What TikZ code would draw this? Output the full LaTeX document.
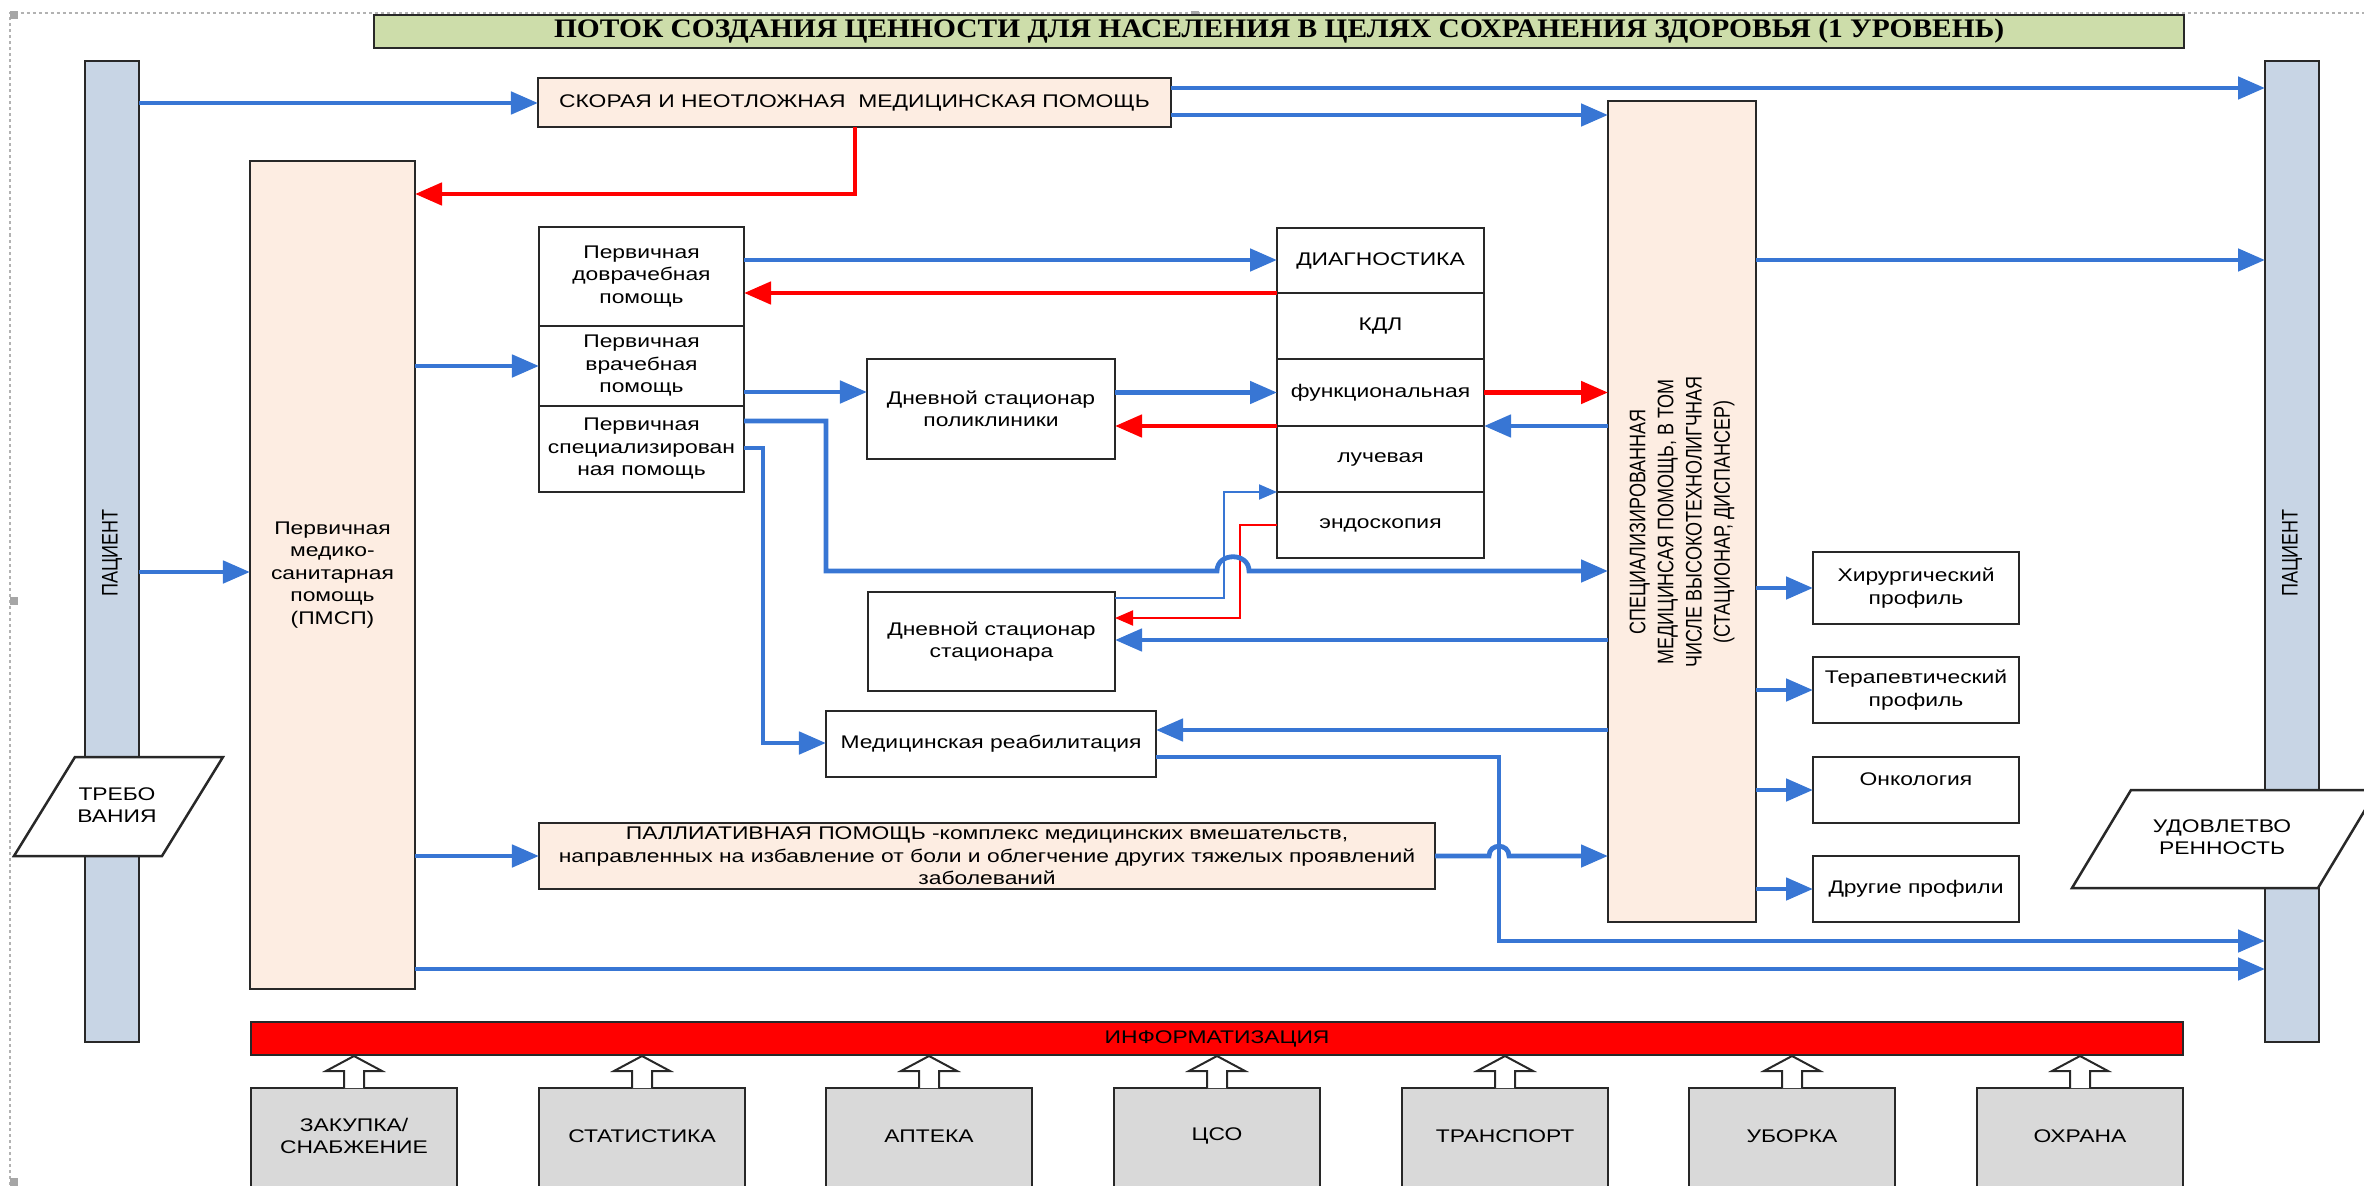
\documentclass[tikz,border=0pt]{standalone}
\usepackage{graphicx}
\usepackage{fontspec}
\setmainfont{Liberation Sans}
\newfontfamily\arw[FakeStretch=1.25]{Liberation Sans}
\newfontfamily\arrot[FakeStretch=0.8]{Liberation Sans}
\newfontfamily\ttlf[FakeStretch=1.1]{Liberation Serif}
\usetikzlibrary{arrows.meta}
\definecolor{peach}{RGB}{253,237,226}
\definecolor{pbl}{RGB}{200,213,229}
\definecolor{ttlg}{RGB}{205,221,170}
\definecolor{botg}{RGB}{217,217,217}
\definecolor{abl}{RGB}{56,118,212}
\definecolor{ared}{RGB}{255,0,0}
\definecolor{bord}{RGB}{40,40,40}
\newcommand\mybox[7]{\node[#6, minimum width={(#4-#2)*0.01cm}, minimum height={(#5-#3)*0.01cm}] (#1) at ({(#2+#4)/2},{(#3+#5)/2}) {#7};}
\newcommand\blkarrow[1]{\draw[hollow] (#1.north) ++(-10,0) -- ++(0,-17) -- ++(-18,0) -- ++(28,-15) -- ++(28,15) -- ++(-18,0) -- ++(0,17);}
\begin{document}
\begin{tikzpicture}[x=0.01cm,y=-0.01cm,
 txt/.style={inner sep=0pt, outer sep=0pt, align=center, font=\arw\fontsize{5.2}{6.4}\selectfont},
 box/.style={txt, draw=bord, line width=0.025cm, fill=white},
 pbox/.style={box, fill=peach},
 bar/.style={box, fill=pbl},
 gbox/.style={box, fill=botg},
 rtxt/.style={inner sep=0pt, align=center, rotate=90, font=\arrot\fontsize{6.4}{8}\selectfont},
 barr/.style={draw=abl, line width=0.048cm, -{Triangle[length=0.27cm,width=0.22cm]}},
 rarr/.style={draw=ared, line width=0.048cm, -{Triangle[length=0.27cm,width=0.22cm]}},
 tbarr/.style={draw=abl, line width=0.02cm, -{Triangle[length=0.18cm,width=0.15cm]}},
 trarr/.style={draw=ared, line width=0.02cm, -{Triangle[length=0.18cm,width=0.15cm]}},
 hollow/.style={draw=bord, line width=0.02cm, fill=white},
 handle/.style={fill=gray!70, draw=none, minimum size=0.08cm, inner sep=0pt}]
\useasboundingbox (0,0) rectangle (2364,1185);
\clip (0,0) rectangle (2364,1185);
% frame
\draw[gray!60, line width=0.012cm, dash pattern=on 0.03cm off 0.03cm] (10,1185) -- (10,13) -- (2364,13);
\node[handle] (h1) at (14,15) {};
\node[handle] (h2) at (1195,15) {};
\node[handle] (h3) at (14,601) {};
\node[handle] (h4) at (14,1182) {};
% patient bars
\mybox{ptL}{85}{61}{139}{1042}{bar}{}
\mybox{ptR}{2265}{61}{2319}{1042}{bar}{}
\node[rtxt] (ptLt) at (112,553) {ПАЦИЕНТ};
\node[rtxt] (ptRt) at (2292,553) {ПАЦИЕНТ};
% title
\mybox{ttl}{374}{15}{2184}{48}{box,fill=ttlg}{\resizebox{14.49cm}{!}{\ttlf\bfseries ПОТОК СОЗДАНИЯ ЦЕННОСТИ ДЛЯ НАСЕЛЕНИЯ В ЦЕЛЯХ СОХРАНЕНИЯ ЗДОРОВЬЯ (1 УРОВЕНЬ)}}
% boxes
\mybox{skor}{538}{78}{1171}{127}{pbox}{СКОРАЯ И НЕОТЛОЖНАЯ\ \ МЕДИЦИНСКАЯ ПОМОЩЬ}
\mybox{pmsp}{250}{161}{415}{989}{pbox}{Первичная\\медико-\\санитарная\\помощь\\(ПМСП)}
\mybox{pd}{539}{227}{744}{326}{box}{Первичная\\доврачебная\\помощь}
\mybox{pv}{539}{326}{744}{406}{box}{Первичная\\врачебная\\помощь}
\mybox{ps}{539}{406}{744}{492}{box}{Первичная\\специализирован\\ная помощь}
\mybox{d1}{1277}{228}{1484}{293}{box}{ДИАГНОСТИКА}
\mybox{d2}{1277}{293}{1484}{359}{box}{КДЛ}
\mybox{d3}{1277}{359}{1484}{426}{box}{функциональная}
\mybox{d4}{1277}{426}{1484}{492}{box}{лучевая}
\mybox{d5}{1277}{492}{1484}{558}{box}{эндоскопия}
\mybox{dspol}{867}{359}{1115}{459}{box}{Дневной стационар\\поликлиники}
\mybox{dsst}{868}{592}{1115}{691}{box}{Дневной стационар\\стационара}
\mybox{reab}{826}{711}{1156}{777}{box}{Медицинская реабилитация}
\mybox{pall}{539}{823}{1435}{889}{pbox}{ПАЛЛИАТИВНАЯ ПОМОЩЬ -комплекс медицинских вмешательств,\\направленных на избавление от боли и облегчение других тяжелых проявлений\\заболеваний}
\mybox{spec}{1608}{101}{1756}{922}{pbox}{}
\node[rtxt] (spect) at (1682,522) {СПЕЦИАЛИЗИРОВАННАЯ\\МЕДИЦИНСАЯ ПОМОЩЬ, В ТОМ\\ЧИСЛЕ ВЫСОКОТЕХНОЛИГЧНАЯ\\(СТАЦИОНАР, ДИСПАНСЕР)};
\mybox{pr1}{1813}{552}{2019}{624}{box}{Хирургический\\профиль}
\mybox{pr2}{1813}{657}{2019}{723}{box}{Терапевтический\\профиль}
\mybox{pr3}{1813}{757}{2019}{823}{box}{Онкология\\[0pt]\mbox{}}
\mybox{pr4}{1813}{856}{2019}{922}{box}{Другие профили}
% requirement / satisfaction
\draw[box] (75,757) -- (223,757) -- (162,856) -- (14,856) -- cycle;
\node[txt] (treb) at (117,805) {ТРЕБО\\ВАНИЯ};
\draw[box] (2131,790) -- (2377,790) -- (2318,888) -- (2072,888) -- cycle;
\node[txt] (udov) at (2222,837) {УДОВЛЕТВО\\РЕННОСТЬ};
% informatization and support
\mybox{info}{251}{1022}{2183}{1055}{box,fill=ared}{ИНФОРМАТИЗАЦИЯ}
\mybox{b1}{251}{1088}{457}{1200}{gbox}{}
\mybox{b2}{539}{1088}{745}{1200}{gbox}{}
\mybox{b3}{826}{1088}{1032}{1200}{gbox}{}
\mybox{b4}{1114}{1088}{1320}{1200}{gbox}{}
\mybox{b5}{1402}{1088}{1608}{1200}{gbox}{}
\mybox{b6}{1689}{1088}{1895}{1200}{gbox}{}
\mybox{b7}{1977}{1088}{2183}{1200}{gbox}{}
\node[txt] (t1) at (354,1136) {ЗАКУПКА/\\СНАБЖЕНИЕ};
\node[txt] (t2) at (642,1136) {СТАТИСТИКА};
\node[txt] (t3) at (929,1136) {АПТЕКА};
\node[txt] (t4) at (1217,1136) {ЦСО};
\node[txt] (t5) at (1505,1136) {ТРАНСПОРТ};
\node[txt] (t6) at (1792,1136) {УБОРКА};
\node[txt] (t7) at (2080,1136) {ОХРАНА};
\blkarrow{b1}\blkarrow{b2}\blkarrow{b3}\blkarrow{b4}\blkarrow{b5}\blkarrow{b6}\blkarrow{b7}
% connectors
\draw[barr] (ptL.east |- 0,103) -- (skor.west |- 0,103);
\draw[barr] (skor.east |- 0,88) -- (ptR.west |- 0,88);
\draw[barr] (skor.east |- 0,115) -- (spec.west |- 0,115);
\draw[rarr] (skor.south -| 855,0) -- (855,194) -- (pmsp.east |- 0,194);
\draw[barr] (ptL.east |- 0,572) -- (pmsp.west |- 0,572);
\draw[barr] (pmsp.east |- 0,366) -- (pv.west |- 0,366);
\draw[barr] (pd.east |- 0,260) -- (d1.west |- 0,260);
\draw[rarr] (d1.south west) -- (pd.east |- d1.south west);
\draw[barr] (pv.east |- 0,392) -- (dspol.west |- 0,392);
\draw[barr] (dspol.east |- d3.west) -- (d3.west);
\draw[rarr] (d3.south west) -- (dspol.east |- d3.south west);
\draw[rarr] (d3.east) -- (spec.west |- d3.east);
\draw[barr] (spec.west |- d3.south east) -- (d3.south east);
\draw[tbarr] (dsst.east |- 0,598) -- (1224,598) -- (1224,492) -- (d5.north west);
\draw[trarr] (d5.west) -- (1240,525) -- (1240,618) -- (dsst.east |- 0,618);
\draw[barr] (ps.east |- 0,421) -- (826,421) -- (826,571) -- (1217,571) .. controls (1217,552) and (1249,552) .. (1249,571) -- (spec.west |- 0,571);
\draw[barr] (ps.east |- 0,448) -- (763,448) -- (763,743) -- (reab.west |- 0,743);
\draw[barr] (spec.west |- 0,640) -- (dsst.east |- 0,640);
\draw[barr] (spec.west |- 0,730) -- (reab.east |- 0,730);
\draw[barr] (reab.east |- 0,757) -- (1499,757) -- (1499,941) -- (ptR.west |- 0,941);
\draw[barr] (pmsp.east |- pall.west) -- (pall.west);
\draw[barr] (pall.east) -- (1489,856) .. controls (1489,843) and (1509,843) .. (1509,856) -- (spec.west |- pall.east);
\draw[barr] (pmsp.east |- 0,969) -- (ptR.west |- 0,969);
\draw[barr] (spec.east |- 0,260) -- (ptR.west |- 0,260);
\draw[barr] (spec.east |- pr1.west) -- (pr1.west);
\draw[barr] (spec.east |- pr2.west) -- (pr2.west);
\draw[barr] (spec.east |- pr3.west) -- (pr3.west);
\draw[barr] (spec.east |- pr4.west) -- (pr4.west);
\end{tikzpicture}
\end{document}
